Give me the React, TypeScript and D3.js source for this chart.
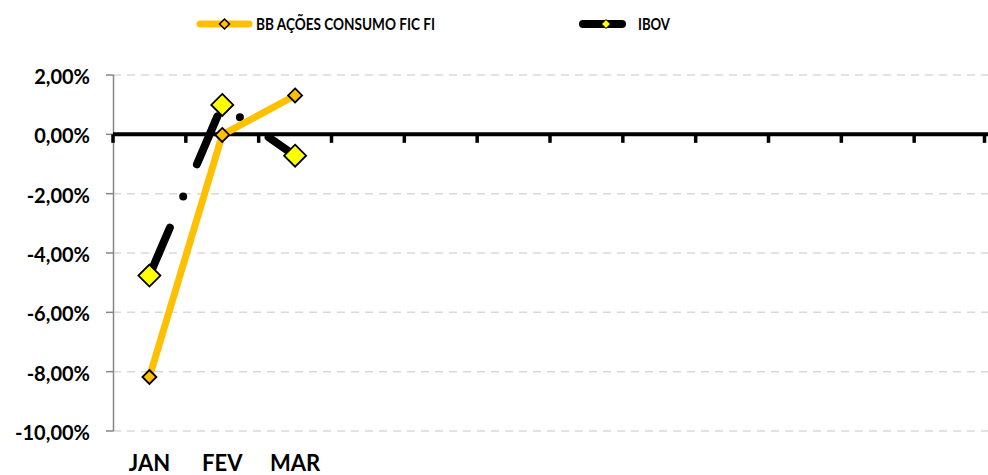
import React from 'react';
import * as d3 from 'd3';

// months on the category axis, only the first three carry data
const categories = ['JAN', 'FEV', 'MAR', 'ABR', 'MAI', 'JUN', 'JUL', 'AGO', 'SET', 'OUT', 'NOV', 'DEZ'];
const tickLabels = ['JAN', 'FEV', 'MAR'];
const bbValues = [-8.18, -0.02, 1.31];
const ibovValues = [-4.76, 0.99, -0.72];
const yTicks = [2, 0, -2, -4, -6, -8, -10];

const W = 988;
const H = 475;
const FONT = 'Lato, "Open Sans", sans-serif';
const ORANGE = '#FFC000';
const YELLOW = '#FFFF00';

function fmt(v: number) {
  return v.toFixed(2).replace('.', ',') + '%';
}

function diamond(x: number, y: number, r: number) {
  return `M${x},${y - r}L${x + r},${y}L${x},${y + r}L${x - r},${y}Z`;
}

export default function App() {
  let x = d3.scaleBand().domain(categories).range([113, 987]).padding(0);
  let y = d3.scaleLinear().domain([-10, 2]).range([431, 75]);
  let cx = (c: string) => (x(c) as number) + x.bandwidth() / 2;

  let line = d3
    .line<number>()
    .x((d, i) => cx(categories[i]))
    .y(d => y(d));

  let boundaries = d3.range(categories.length + 1).map(i => 113 + i * x.bandwidth());

  return (
    <svg width={W} height={H} style={{ position: 'absolute', left: 0, top: 0, background: '#fff' }}>
      {/* gridlines */}
      {yTicks.filter(t => t !== 0).map(t => (
        <line key={t} x1={113} x2={W} y1={y(t)} y2={y(t)} stroke="#D9D9D9" strokeWidth={1.5} strokeDasharray="8 6" />
      ))}
      {/* y axis */}
      <line x1={113.5} x2={113.5} y1={y(2)} y2={y(-10)} stroke="#868686" strokeWidth={1.5} />
      {yTicks.map(t => (
        <g key={t}>
          <line x1={106} x2={113.5} y1={y(t)} y2={y(t)} stroke="#868686" strokeWidth={1.5} />
          <text x={90} y={y(t) + 2} dy="0.35em" textAnchor="end" fontFamily={FONT} fontWeight="bold" fontSize={20} fill="#000">
            {fmt(t)}
          </text>
        </g>
      ))}
      {/* zero axis */}
      <line x1={113} x2={W} y1={y(0)} y2={y(0)} stroke="#000" strokeWidth={4} />
      {boundaries.map((b, i) => (
        <rect key={i} x={Math.min(b, W - 3.5) - 1.75} y={y(0)} width={3.5} height={8.5} fill="#000" />
      ))}
      {tickLabels.map(c => (
        <text key={c} x={cx(c)} y={471} textAnchor="middle" fontFamily={FONT} fontWeight="bold" fontSize={22} fill="#000">
          {c}
        </text>
      ))}

      {/* IBOV */}
      <path d={line(ibovValues) as string} fill="none" stroke="#000" strokeWidth={8} strokeLinecap="round" strokeLinejoin="round" strokeDasharray="52 34 0 35" />
      {/* BB */}
      <path d={line(bbValues) as string} fill="none" stroke={ORANGE} strokeWidth={7} strokeLinejoin="round" />
      {bbValues.map((v, i) => (
        <path key={i} d={diamond(cx(categories[i]), y(v), 7)} fill={ORANGE} stroke="#000" strokeWidth={1.8} />
      ))}
      {ibovValues.map((v, i) => (
        <path key={i} d={diamond(cx(categories[i]), y(v), 11)} fill={YELLOW} stroke="#000" strokeWidth={1.8} />
      ))}

      {/* legend */}
      <line x1={200} x2={249} y1={24} y2={24} stroke={ORANGE} strokeWidth={7} strokeLinecap="round" />
      <path d={diamond(224.5, 24, 5)} fill={ORANGE} stroke="#000" strokeWidth={1.5} />
      <text x={256} y={24} dy="0.35em" fontFamily={FONT} fontWeight="bold" fontSize={17} textLength={179} lengthAdjust="spacingAndGlyphs" fill="#000">
        BB AÇÕES CONSUMO FIC FI
      </text>
      <line x1={583} x2={622} y1={24} y2={24} stroke="#000" strokeWidth={8} strokeLinecap="round" />
      <path d={diamond(606, 24, 4.5)} fill={YELLOW} stroke="#000" strokeWidth={1} />
      <text x={638} y={24} dy="0.35em" fontFamily={FONT} fontWeight="bold" fontSize={17} textLength={32} lengthAdjust="spacingAndGlyphs" fill="#000">
        IBOV
      </text>
    </svg>
  );
}
